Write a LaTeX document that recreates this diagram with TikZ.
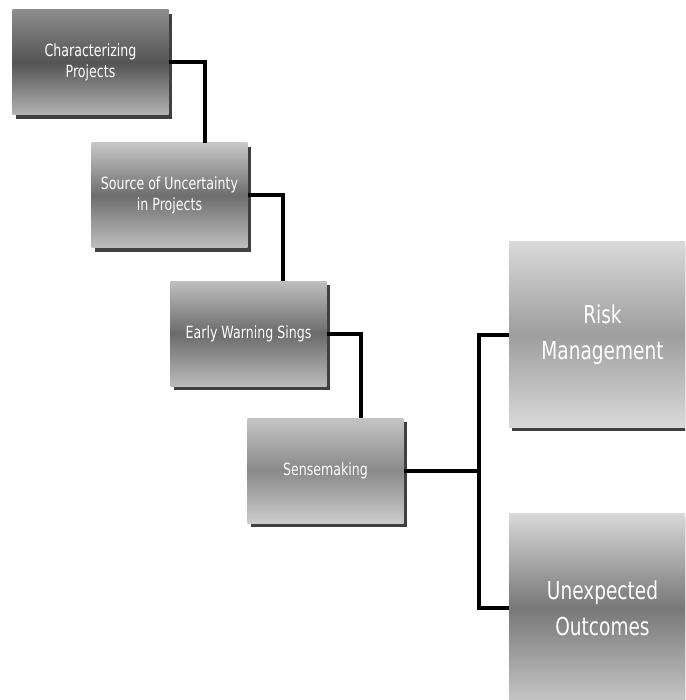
\documentclass[tikz,border=0pt]{standalone}
\usepackage{fontspec}
\setmainfont{DejaVu Sans}[FakeStretch=0.75]
\usepackage{tikz}
\usetikzlibrary{shadows}

\begin{document}
\begin{tikzpicture}[
    x=1pt, y=-1pt,
    stage/.style n args={3}{rectangle, minimum width=156pt, minimum height=105pt,
        align=center, text=white, top color=#1, bottom color=#3, middle color=#2,
        font=\fontsize{16.8}{21}\selectfont,
        drop shadow={shadow xshift=3pt, shadow yshift=-4pt, fill=black, opacity=0.75}},
    outcome/.style={minimum width=187pt, font=\fontsize{24.7}{36}\selectfont},
    link/.style={line width=4pt, black, line join=miter}
]
\useasboundingbox (0,0) rectangle (685,700);
\clip (0,0) rectangle (685,700);

% stages down the staircase
\node[stage={black!45}{black!67}{black!30}] (charac) at (90.5,62.5) {Characterizing\\Projects};
\node[stage={black!22}{black!57}{black!25}] (source) at (169.5,195.5) {Source of Uncertainty\\in Projects};
\node[stage={black!25}{black!58}{black!27}] (warning) at (248.5,333.5) {Early Warning Sings};
\node[stage={black!23}{black!46}{black!20}] (sense) at (325.5,470.5) {Sensemaking};

% outcomes on the right
\node[stage={black!15}{black!38}{black!15}, outcome, minimum height=185pt] (risk) at (602.5,334.5) {Risk\\Management};
\node[stage={black!15}{black!53}{black!22}, outcome, minimum height=190pt] (unexp) at (602.5,608) {Unexpected\\Outcomes};

% connectors
\draw[link] (charac.east) -| ([xshift=35pt]source.north);
\draw[link] (source.east) -| ([xshift=34pt]warning.north);
\draw[link] (warning.east) -| ([xshift=35pt]sense.north);
\draw[link] (sense.east) -- ++(75,0) coordinate (bus);
\draw[link] (risk.west) -| (bus) |- (unexp.west);
\end{tikzpicture}
\end{document}
